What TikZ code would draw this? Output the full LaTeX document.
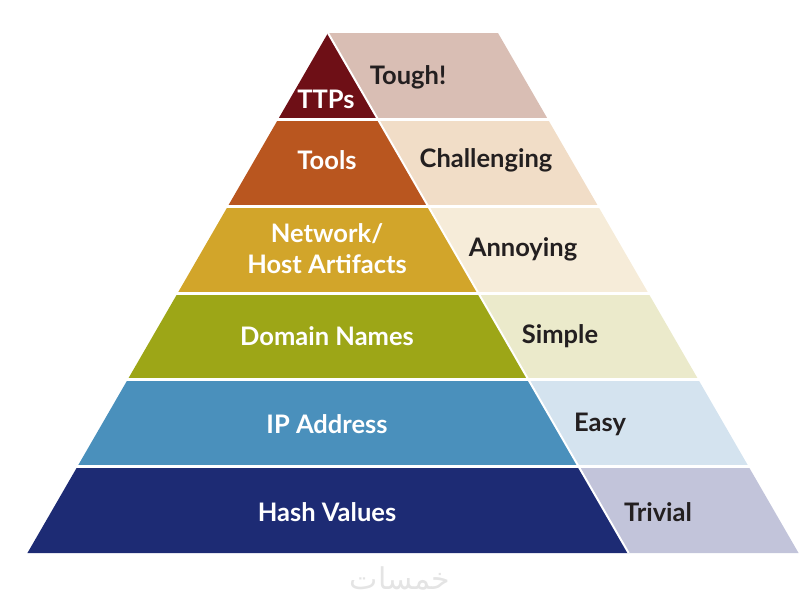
\documentclass[tikz,border=0pt]{standalone}
\usepackage{fontspec}
\setmainfont{Lato}
\newfontfamily\arabicfont[Script=Arabic]{DejaVu Sans}
\TeXXeTstate=1
\definecolor{cAl}{HTML}{6E0F16}
\definecolor{cAr}{HTML}{D9BEB4}
\definecolor{cBl}{HTML}{B9561F}
\definecolor{cBr}{HTML}{F1DDC7}
\definecolor{cCl}{HTML}{D2A52A}
\definecolor{cCr}{HTML}{F6ECD9}
\definecolor{cDl}{HTML}{9DA617}
\definecolor{cDr}{HTML}{EBEACB}
\definecolor{cEl}{HTML}{4A90BC}
\definecolor{cEr}{HTML}{D4E3EF}
\definecolor{cFl}{HTML}{1D2B74}
\definecolor{cFr}{HTML}{C2C4DA}
\definecolor{darktext}{HTML}{231F20}
\definecolor{wmark}{HTML}{E4E4E4}
\tikzset{
  lefttext/.style={text=white, font=\fontsize{25.5}{31}\selectfont\bfseries, align=center},
  righttext/.style={text=darktext, font=\fontsize{25.5}{31}\selectfont\bfseries, align=center},
  gapline/.style={draw=white, line width=3pt},
}
\begin{document}
\begin{tikzpicture}[x=1pt,y=-1pt]
\useasboundingbox (0,0) rectangle (800,600);
\foreach \i/\cl/\cr in {0/cAl/cAr,1/cBl/cBr,2/cCl/cCr,3/cDl/cDr,4/cEl/cEr,5/cFl/cFr}{
  \pgfmathsetmacro\ya{33+\i*86.667}
  \pgfmathsetmacro\yb{33+(\i+1)*86.667}
  \pgfmathsetmacro\da{0.578*(\ya-33)}
  \pgfmathsetmacro\db{0.578*(\yb-33)}
  \fill[\cl] ({328-\da},\ya) -- ({328+\da},\ya) -- ({328+\db},\yb) -- ({328-\db},\yb) -- cycle;
  \fill[\cr] ({328+\da},\ya) -- ({498+\da},\ya) -- ({498+\db},\yb) -- ({328+\db},\yb) -- cycle;
}
\foreach \k in {1,...,5}{
  \pgfmathsetmacro\yk{33+\k*86.667}
  \draw[gapline] (0,\yk) -- (800,\yk);
}
\coordinate (apex) at (328,33);
\coordinate (basemid) at (628.6,553);
\draw[draw=white, line width=2pt] (apex) -- (basemid);

\node[lefttext] (ttps) at (326,99) {TTPs};
\node[righttext] (tough) at (408,77) {Tough!};
\node[lefttext] (tools) at (327,160) {Tools};
\node[righttext] (chall) at (486,160) {Challenging};
\node[lefttext] (netw) at (327,249) {Network/\\Host Artifacts};
\node[righttext] (annoy) at (523,249) {Annoying};
\node[lefttext] (domain) at (327,336) {Domain Names};
\node[righttext] (simple) at (560,336) {Simple};
\node[lefttext] (ip) at (327,424) {IP Address};
\node[righttext] (easy) at (600,424) {Easy};
\node[lefttext] (hash) at (327,512) {Hash Values};
\node[righttext] (trivial) at (658,512) {Trivial};
\node[text=wmark, font=\fontsize{30}{34}\selectfont] (wm) at (400,578) {\arabicfont\beginR خمسات\endR};
\end{tikzpicture}
\end{document}
